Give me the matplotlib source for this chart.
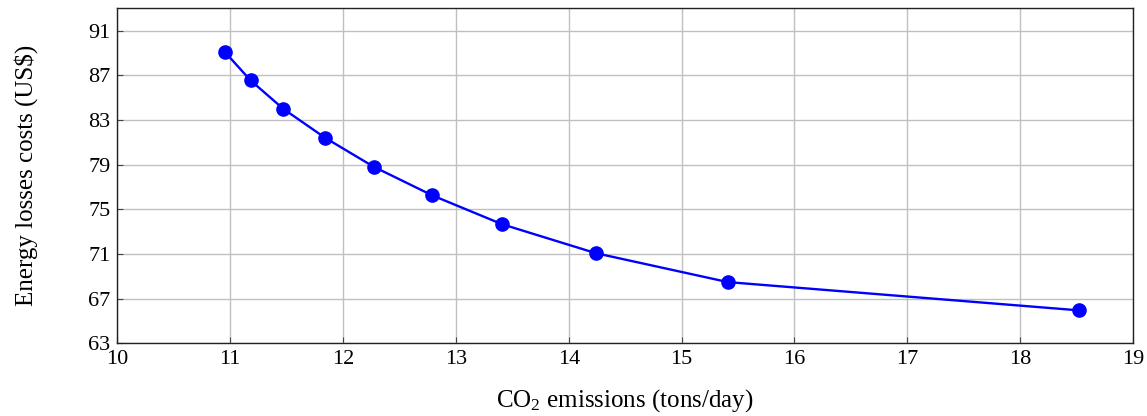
import matplotlib
matplotlib.use("Agg")
import matplotlib.pyplot as plt

co2 = [10.95, 11.18, 11.47, 11.84, 12.27, 12.79, 13.41, 14.24, 15.41, 18.52]
cost = [89.12, 86.55, 84.0, 81.41, 78.82, 76.25, 73.66, 71.07, 68.48, 65.95]
xticks = [10, 11, 12, 13, 14, 15, 16, 17, 18, 19]
yticks = [63, 67, 71, 75, 79, 83, 87, 91]

plt.rcParams['font.family'] = ['Liberation Serif', 'DejaVu Serif']
plt.rcParams['mathtext.fontset'] = 'custom'
plt.rcParams['mathtext.rm'] = 'Liberation Serif'
plt.rcParams['mathtext.it'] = 'Liberation Serif:italic'

fig = plt.figure(figsize=(11.47, 4.16), dpi=100)
ax = fig.add_axes([0.1023, 0.1748, 0.8855, 0.8052])
ax.plot(co2, cost, color='#0000ff', lw=1.7, marker='o', markersize=9.5, zorder=3)
ax.set_xlim(10, 19)
ax.set_ylim(63, 93)
ax.set_xticks(xticks)
ax.set_yticks(yticks)
ax.grid(True, color='#c0c0c0', lw=1.0)
ax.set_axisbelow(True)
ax.tick_params(direction='in', length=4, labelsize=16, color='#444444', width=0.8, pad=5)
for s in ax.spines.values():
    s.set_linewidth(1.0)
    s.set_color('#222222')
ax.set_xlabel('CO$_2$ emissions (tons/day)', fontsize=18, labelpad=13)
ax.set_ylabel('Energy losses costs (US$)', fontsize=18, labelpad=36)
fig.savefig('out.png', dpi=100)
